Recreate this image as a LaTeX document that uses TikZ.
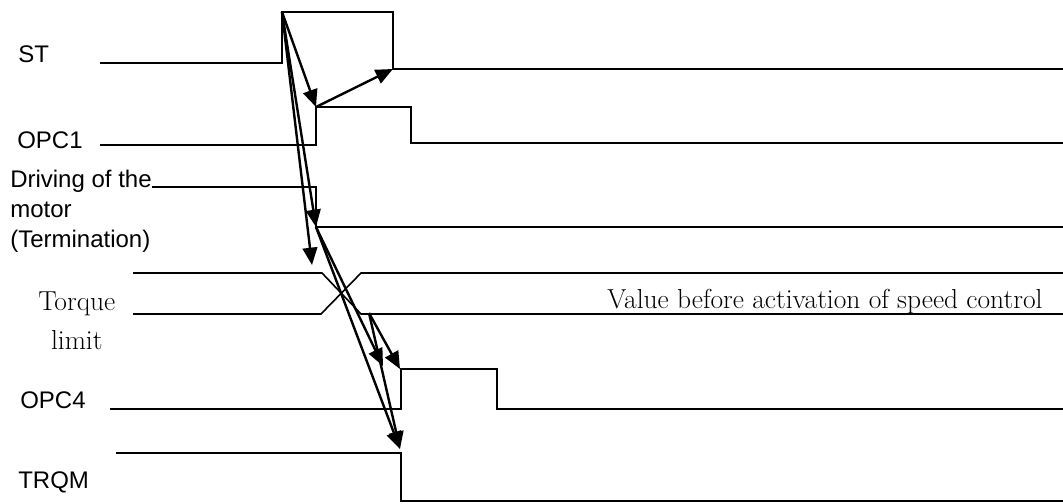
\documentclass[tikz,border=0pt]{standalone}
\usepackage{fontspec}
\newfontfamily\sigfont{Liberation Sans}
\usepackage{tikz}
\usetikzlibrary{arrows.meta}

\begin{document}
\begin{tikzpicture}[
  x=0.75pt, y=-0.75pt,
  signal/.style={line width=1.2pt, draw=black},
  cause/.style={-{Triangle[length=13pt, width=11pt]}, line width=1.8pt, draw=black},
  sig/.style={inner sep=0pt, anchor=base west, font=\sigfont\fontsize{18}{22.5}\selectfont, align=left},
  note/.style={inner sep=0pt, anchor=base west, font=\fontsize{20.6}{29}\selectfont, align=center}
]
\useasboundingbox (0,0) rectangle (1063,503);

\node[sig] (stLabel) at (18,63) {ST};
\node[sig] (opcOneLabel) at (17,148) {OPC1};
\node[sig] (driveLabel) at (10,247) {Driving of the\\motor\\(Termination)};
\node[note] (torqueLabel) at (38,349) {Torque\\limit};
\node[sig] (opcFourLabel) at (20,408) {OPC4};
\node[sig] (trqmLabel) at (18,488) {TRQM};
\node[note] (valueLabel) at (607,308) {Value before activation of speed control};

\coordinate (stRise) at (282,12);
\coordinate (stFall) at (393,69);
\coordinate (opcOneRise) at (316,107);
\coordinate (driveFall) at (316,227);
\coordinate (torqueStart) at (312,265);
\coordinate (torqueEnd) at (369,313);
\coordinate (opcFourNear) at (383,366);
\coordinate (opcFourRise) at (400,369);
\coordinate (trqmFall) at (400,449);

\draw[signal] (100,63) -- (282,63) -- (282,12) -- (393,12) -- (393,69) -- (1063,69);
\draw[signal] (100,145) -- (316,145) -- (316,107) -- (411,107) -- (411,143) -- (1063,143);
\draw[signal] (152,187) -- (316,187) -- (316,227) -- (1063,227);
\draw[signal] (133,273) -- (322,273) -- (361,314) -- (1063,314);
\draw[signal] (133,314) -- (321,314) -- (361,273) -- (1063,273);
\draw[signal] (110,409) -- (401,409) -- (401,369) -- (497,369) -- (497,409) -- (1063,409);
\draw[signal] (116,453) -- (401,453) -- (401,501) -- (1063,501);

\draw[cause] (stRise) -- (opcOneRise);
\draw[cause] (opcOneRise) -- (stFall);
\draw[cause] (stRise) -- (torqueStart);
\draw[cause] (stRise) -- (driveFall);
\draw[cause] (driveFall) -- (opcFourNear);
\draw[cause] (driveFall) -- (trqmFall);
\draw[cause] (torqueEnd) -- (opcFourRise);
\draw[cause] (torqueEnd) -- (trqmFall);
\end{tikzpicture}
\end{document}
